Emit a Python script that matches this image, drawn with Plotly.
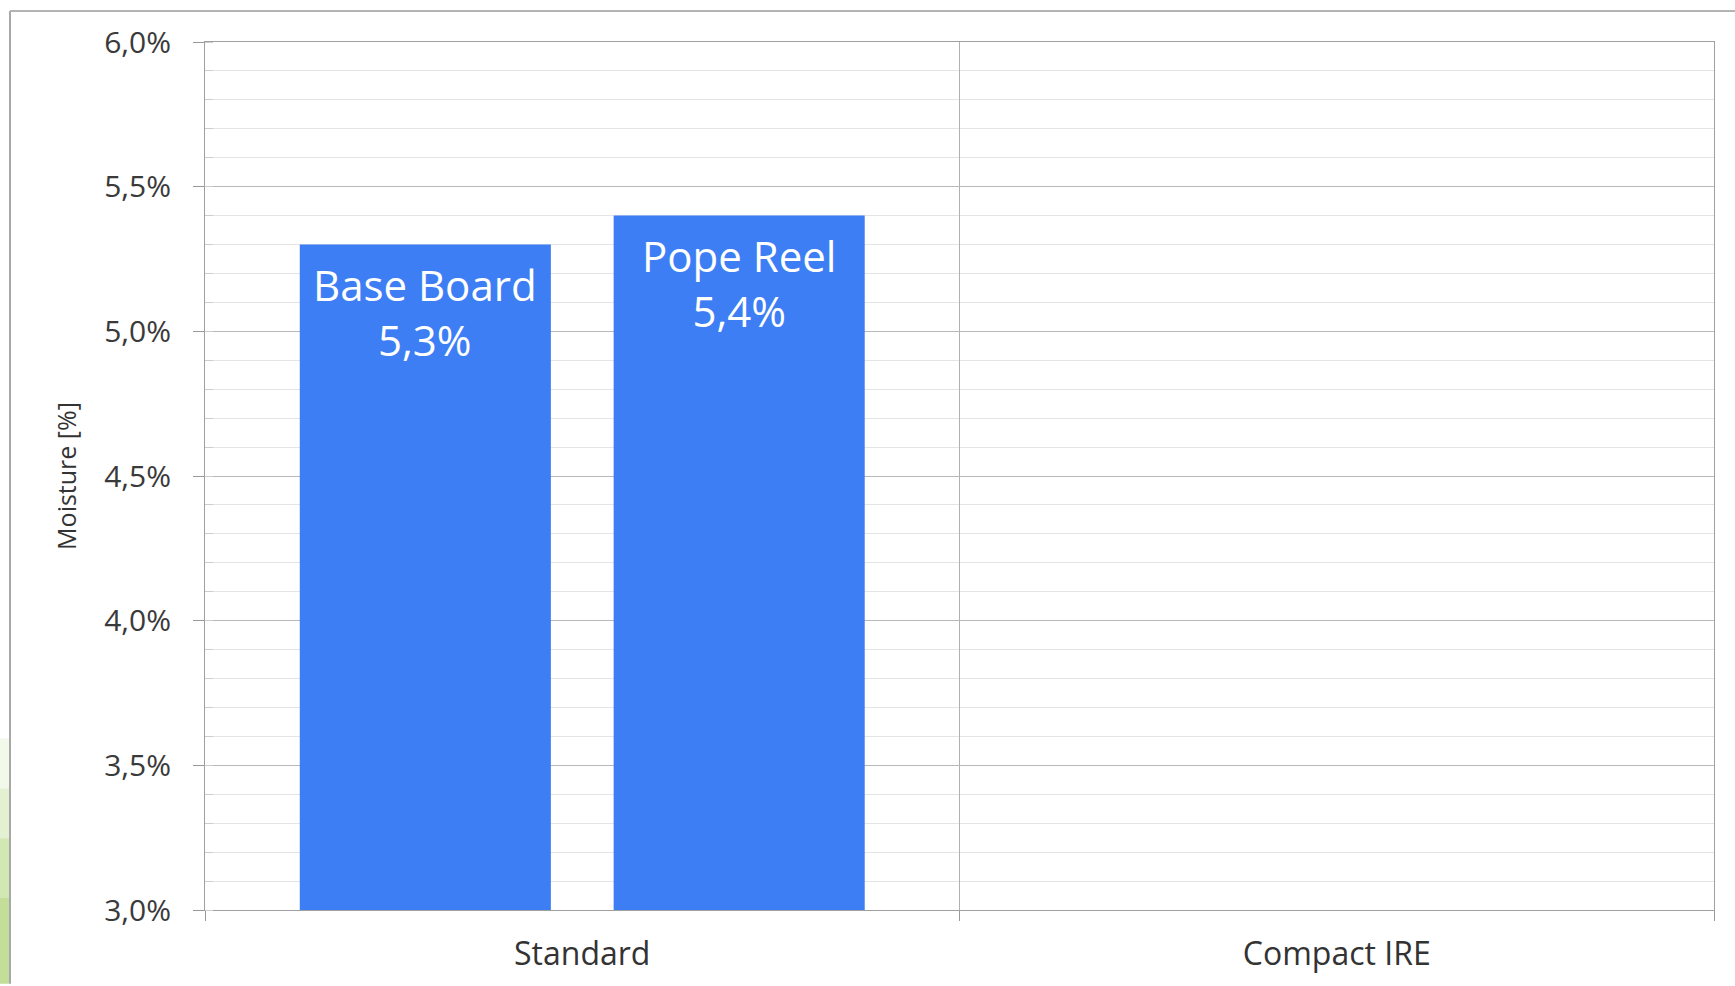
import plotly.graph_objects as go

categories = ["Standard", "Compact IRE"]
series_names = ["Base Board", "Pope Reel"]
base_board = [5.3, None]
pope_reel = [5.4, None]
bar_labels = ["Base Board<br>5,3%", "Pope Reel<br>5,4%"]
y_ticks = [3.0, 3.5, 4.0, 4.5, 5.0, 5.5, 6.0]
y_tick_labels = ["3,0%", "3,5%", "4,0%", "4,5%", "5,0%", "5,5%", "6,0%"]

BAR_COLOR = "#3d7ef4"
BARGAP = 0.168
BARGROUPGAP = 0.2
Y_BASE = 3.0

W, H = 1735, 986
ML, MR, MT, MB = 205, 21, 42, 74
PW, PH = W - ML - MR, H - MT - MB


def px_x(p):
    return (p - ML) / PW


def px_y(p):
    return (H - MB - p) / PH


fig = go.Figure()
for name, vals in zip(series_names, [base_board, pope_reel]):
    fig.add_trace(go.Bar(
        x=categories,
        y=[None if v is None else v - Y_BASE for v in vals],
        base=Y_BASE, name=name,
        marker=dict(color=BAR_COLOR, line=dict(width=0)),
        hoverinfo="skip",
    ))

slot = (1 - BARGAP) / len(series_names)
annotations = []
for i, (lbl, vals) in enumerate(zip(bar_labels, [base_board, pope_reel])):
    xpos = 0 - (1 - BARGAP) / 2 + slot * (i + 0.5)
    annotations.append(dict(
        x=xpos, y=vals[0], xref="x", yref="y", text=lbl, showarrow=False,
        yanchor="top", xanchor="center", yshift=-9,
        font=dict(family="Open Sans", size=42, color="white"),
    ))

shapes = [
    dict(type="rect", xref="paper", yref="paper",
         x0=px_x(0), x1=px_x(9), y0=px_y(986), y1=px_y(900),
         fillcolor="#c3de98", line=dict(width=0), layer="below"),
    dict(type="rect", xref="paper", yref="paper",
         x0=px_x(0), x1=px_x(9), y0=px_y(900), y1=px_y(840),
         fillcolor="#d3e7b5", line=dict(width=0), layer="below"),
    dict(type="rect", xref="paper", yref="paper",
         x0=px_x(0), x1=px_x(9), y0=px_y(840), y1=px_y(790),
         fillcolor="#e4f0d2", line=dict(width=0), layer="below"),
    dict(type="rect", xref="paper", yref="paper",
         x0=px_x(0), x1=px_x(9), y0=px_y(790), y1=px_y(740),
         fillcolor="#f2f8ea", line=dict(width=0), layer="below"),
    dict(type="line", xref="paper", yref="paper",
         x0=px_x(10), x1=px_x(10), y0=px_y(11), y1=px_y(986),
         line=dict(color="#a8a8a8", width=2)),
    dict(type="line", xref="paper", yref="paper",
         x0=px_x(10), x1=px_x(1735), y0=px_y(11), y1=px_y(11),
         line=dict(color="#b4b4b4", width=2)),
]

fig.update_layout(
    width=W, height=H,
    margin=dict(l=ML, r=MR, t=MT, b=MB, pad=0),
    paper_bgcolor="white", plot_bgcolor="white",
    barmode="group", bargap=BARGAP, bargroupgap=BARGROUPGAP,
    showlegend=False,
    annotations=annotations,
    shapes=shapes,
    font=dict(family="Open Sans", color="#333333"),
)

fig.update_yaxes(
    range=[3.0, 6.0],
    tickmode="array", tickvals=y_ticks, ticktext=y_tick_labels,
    tickfont=dict(size=30, color="#3a3a3a"),
    ticks="outside", ticklen=11, tickcolor="#999999", tickwidth=1,
    ticklabelstandoff=16,
    showgrid=True, gridcolor="#b8b8b8", gridwidth=1,
    minor=dict(dtick=0.1, showgrid=True, gridcolor="#e4e4e4", gridwidth=1,
               ticks="inside", ticklen=8, tickcolor="#cccccc"),
    showline=True, linecolor="#a0a0a0", linewidth=1, mirror=True,
    zeroline=False,
    title=dict(text="Moisture [%]", font=dict(size=25, color="#333333"), standoff=20),
)

fig.update_xaxes(
    type="category",
    tickson="boundaries",
    ticks="outside", ticklen=10, tickcolor="#999999",
    ticklabelstandoff=16,
    showgrid=True, gridcolor="#b0b0b0", gridwidth=1,
    tickfont=dict(size=32, color="#333333"),
    showline=True, linecolor="#a0a0a0", linewidth=1, mirror=True,
    zeroline=False,
    range=[-0.5, 1.5],
)

fig.write_html("out.html")
